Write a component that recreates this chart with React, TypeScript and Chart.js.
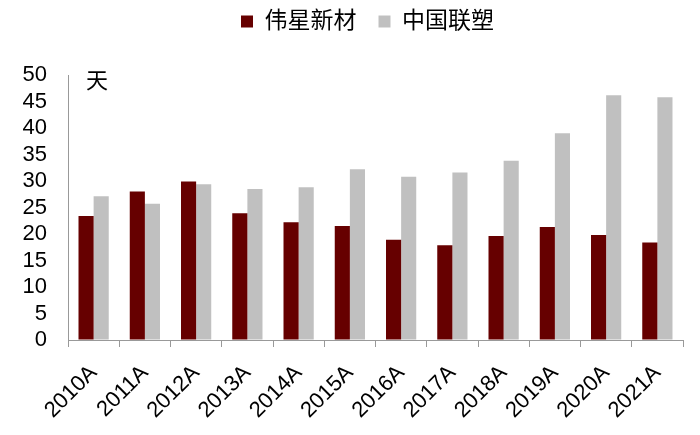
import { useEffect, useRef } from "react";
import Chart from "chart.js/auto";

const years = ["2010A", "2011A", "2012A", "2013A", "2014A", "2015A", "2016A", "2017A", "2018A", "2019A", "2020A", "2021A"];
const weixing = [23.4, 28.0, 29.9, 23.9, 22.2, 21.5, 18.9, 17.9, 19.6, 21.3, 19.8, 18.4];
const liansu = [27.1, 25.7, 29.4, 28.5, 28.8, 32.2, 30.8, 31.6, 33.8, 39.0, 46.2, 45.8];
const unitLabel = "天";

const FONT = "'Liberation Sans', 'Noto Sans CJK SC', sans-serif";

export default function App() {
  const chartRef = useRef<HTMLCanvasElement>(null);
  const chartInstance = useRef<Chart | null>(null);

  useEffect(() => {
    if (!chartRef.current) return;
    if (chartInstance.current) chartInstance.current.destroy();
    const ctx = chartRef.current.getContext("2d");
    if (!ctx) return;

    // legend band is 75px tall; drawn a little higher and shifted right
    const legendFit = {
      id: "legendFit",
      beforeInit(chart: any) {
        const legend = chart.legend;
        if (!legend) return;
        const fit = legend.fit;
        legend.fit = function () {
          fit.call(this);
          this.height = 75;
        };
      },
      beforeDraw(chart: any) {
        if (chart.legend) {
          chart.legend.top = -12;
          chart.legend.left = 52;
        }
      },
    };

    const unitText = {
      id: "unitText",
      afterDraw(chart: any) {
        const c = chart.ctx;
        const area = chart.chartArea;
        c.save();
        c.font = `22px ${FONT}`;
        c.fillStyle = "#000";
        c.textAlign = "center";
        c.textBaseline = "middle";
        c.fillText(unitLabel, area.left + 29, area.top + 7);
        c.restore();
      },
    };

    chartInstance.current = new Chart(ctx, {
      type: "bar",
      data: {
        labels: years,
        datasets: [
          {
            label: "伟星新材",
            data: weixing,
            backgroundColor: "#660000",
            borderWidth: 0,
            categoryPercentage: 0.59,
            barPercentage: 1.0,
          },
          {
            label: "中国联塑",
            data: liansu,
            backgroundColor: "#c0c0c0",
            borderWidth: 0,
            categoryPercentage: 0.59,
            barPercentage: 1.0,
          },
        ],
      },
      options: {
        responsive: true,
        maintainAspectRatio: false,
        animation: false,
        layout: { padding: { left: 0, right: 17, top: 0, bottom: 0 } },
        plugins: {
          legend: {
            position: "top",
            labels: {
              boxWidth: 12,
              boxHeight: 12,
              padding: 22,
              color: "#000",
              font: { family: FONT, size: 23 },
            },
          },
          tooltip: { enabled: false },
        },
        scales: {
          x: {
            afterFit: (scale: any) => {
              scale.height = 95;
            },
            grid: {
              display: true,
              drawOnChartArea: false,
              drawTicks: true,
              tickLength: 7,
              color: "#999",
            },
            border: { display: true, color: "#999", width: 1 },
            ticks: {
              color: "#000",
              font: { family: FONT, size: 22 },
              minRotation: 45,
              maxRotation: 45,
              autoSkip: false,
              padding: 13,
            },
          },
          y: {
            min: 0,
            max: 50,
            afterFit: (scale: any) => {
              scale.width = 68;
            },
            grid: {
              display: true,
              drawOnChartArea: false,
              drawTicks: false,
            },
            border: { display: true, color: "#999", width: 1 },
            ticks: {
              stepSize: 5,
              autoSkip: false,
              color: "#000",
              padding: 21,
              font: { family: FONT, size: 22 },
            },
          },
        },
      },
      plugins: [legendFit, unitText],
    });

    return () => {
      if (chartInstance.current) {
        chartInstance.current.destroy();
        chartInstance.current = null;
      }
    };
  }, []);

  return (
    <div style={{ position: "fixed", left: 0, top: 0, width: 700, height: 435, background: "#fff" }}>
      <canvas ref={chartRef}></canvas>
    </div>
  );
}
